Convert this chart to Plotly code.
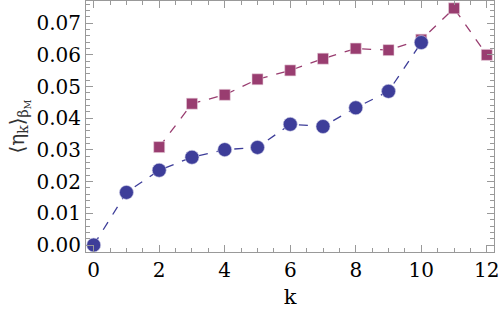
import plotly.graph_objects as go

k_blue = [0, 1, 2, 3, 4, 5, 6, 7, 8, 9, 10]
eta_blue = [0.0000, 0.0166, 0.0236, 0.0277, 0.0301, 0.0308, 0.0381, 0.0374, 0.0433, 0.0485, 0.0639]

k_purple = [2, 3, 4, 5, 6, 7, 8, 9, 10, 11, 12]
eta_purple = [0.0309, 0.0446, 0.0474, 0.0523, 0.0551, 0.0588, 0.0620, 0.0615, 0.0648, 0.0747, 0.0600]

x_ticks = [0, 2, 4, 6, 8, 10, 12]
y_ticks = [0.00, 0.01, 0.02, 0.03, 0.04, 0.05, 0.06, 0.07]
y_tick_labels = ["0.00", "0.01", "0.02", "0.03", "0.04", "0.05", "0.06", "0.07"]

BLUE = "#3d3d99"
PURPLE = "#993d70"
FONT = "DejaVu Serif"

fig = go.Figure()
fig.add_trace(go.Scatter(
    x=k_purple, y=eta_purple, mode="lines+markers",
    line=dict(color=PURPLE, width=1.3, dash="dash"),
    marker=dict(symbol="square", size=11, color=PURPLE, line=dict(color="#e8d0dc", width=0.6)),
    showlegend=False, cliponaxis=False))
fig.add_trace(go.Scatter(
    x=k_blue, y=eta_blue, mode="lines+markers",
    line=dict(color=BLUE, width=1.3, dash="dash"),
    marker=dict(symbol="circle", size=14, color=BLUE, line=dict(color="#d0d0e8", width=0.6)),
    showlegend=False, cliponaxis=False))

fig.update_xaxes(
    range=[-0.235, 12.22], tickvals=x_ticks,
    showline=True, linecolor="#999999", linewidth=1, mirror="ticks",
    ticks="inside", tickcolor="#999999", ticklen=7, tickwidth=1,
    showgrid=False, zeroline=False, automargin=False,
    tickfont=dict(family=FONT, size=20, color="black"),
    minor=dict(dtick=0.5, tick0=0, ticks="inside", ticklen=4, tickcolor="#999999", showgrid=False),
    title=dict(text="k", font=dict(family=FONT, size=21, color="black"), standoff=8))
fig.update_yaxes(
    range=[-0.0022, 0.077], tickvals=y_ticks, ticktext=y_tick_labels,
    showline=True, linecolor="#999999", linewidth=1, mirror="ticks",
    ticks="inside", tickcolor="#999999", ticklen=7, tickwidth=1,
    showgrid=False, zeroline=False, automargin=False,
    tickfont=dict(family=FONT, size=20, color="black"),
    minor=dict(dtick=0.002, tick0=0, ticks="inside", ticklen=4, tickcolor="#999999", showgrid=False),
    title=dict(text="⟨η<sub>k</sub>⟩<sub>β<sub>M</sub></sub>", font=dict(family=FONT, size=20, color="#333333"), standoff=6))

fig.update_layout(
    width=500, height=317,
    margin=dict(l=86, r=6, t=1, b=65, autoexpand=False),
    font=dict(family=FONT),
    plot_bgcolor="white", paper_bgcolor="white",
)

fig.write_html("out.html", config={"displayModeBar": False},
               post_script="document.body.style.margin='0px';")
